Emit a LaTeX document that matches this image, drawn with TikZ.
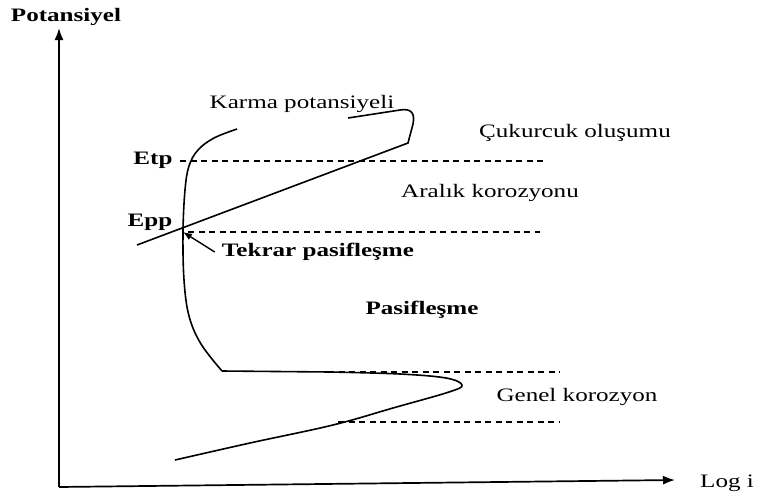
\documentclass[tikz,border=0pt]{standalone}
\usepackage{fontspec}
\setmainfont{Liberation Serif}
\usetikzlibrary{arrows.meta}
\tikzset{
  lbl/.style={font=\fontsize{19}{21}\selectfont, xscale=1.32, inner sep=0pt},
  blbl/.style={lbl, font=\fontsize{19}{21}\selectfont\bfseries},
  curve/.style={line width=1.6pt},
  guide/.style={line width=1.1pt, dash pattern=on 6pt off 4.5pt},
}
\begin{document}
\begin{tikzpicture}[x=1pt,y=-1pt]
\useasboundingbox (0,0) rectangle (758,498);
% axes
\coordinate (O) at (59,487);
\coordinate (ytop) at (59,28);
\coordinate (xend) at (675,480);
\draw[line width=1.7pt,-{Latex[length=12pt,width=9pt]}] (O)--(ytop);
\draw[line width=1.7pt,-{Latex[length=12pt,width=9pt]}] (O)--(xend);
\node[blbl] (pot) at (66,17) {Potansiyel};
\node[lbl] (logi) at (727,483) {Log i};

% levels
\node[blbl] (etp) at (153,160) {Etp};
\node[blbl] (epp) at (150,222) {Epp};
\coordinate (etpA) at (180,161);  \coordinate (etpB) at (547,161);
\coordinate (eppA) at (188,232);  \coordinate (eppB) at (540,232);
\coordinate (g1A) at (328,372);   \coordinate (g1B) at (560,372);
\coordinate (g2A) at (338,422);   \coordinate (g2B) at (560,422);
\draw[guide] (etpA)--(etpB);
\draw[guide] (eppA)--(eppB);
\draw[guide] (g1A)--(g1B);
\draw[guide] (g2A)--(g2B);

% polarisation curve
\coordinate (top) at (237,129);
\coordinate (knee) at (222,371);
\draw[curve] plot[smooth,tension=0.6] coordinates {(top) (214,138) (198,150) (189,166) (185,190) (183,232) (184,280) (189,316) (201,344) (knee)};
\draw[curve] (knee) -- (330,372) plot[smooth,tension=0.6] coordinates {(330,372) (400,374) (446,378) (462,385) (449,392) (393,408) (333,425) (250,443) (175,460)};

% mixed potential line
\coordinate (hump) at (348,118);
\coordinate (hend) at (408,143);
\coordinate (lend) at (137,245);
\draw[curve] (hump) -- (400,110) .. controls (412,108) and (415,114) .. (413,124) -- (hend) -- (lend);

% labels
\node[lbl] (karma) at (302,104) {Karma potansiyeli};
\node[lbl] (cuk) at (575,133) {Çukurcuk oluşumu};
\node[lbl] (aralik) at (490,193) {Aralık korozyonu};
\node[blbl] (tekrar) at (318,252) {Tekrar pasifleşme};
\node[blbl] (pasif) at (422,310) {Pasifleşme};
\node[lbl] (genel) at (577,397) {Genel korozyon};
\coordinate (rp) at (183,232);
\draw[line width=1.4pt,-{Latex[length=9pt,width=7pt]}] ([xshift=-7pt]tekrar.west) -- (rp);
\end{tikzpicture}
\end{document}
